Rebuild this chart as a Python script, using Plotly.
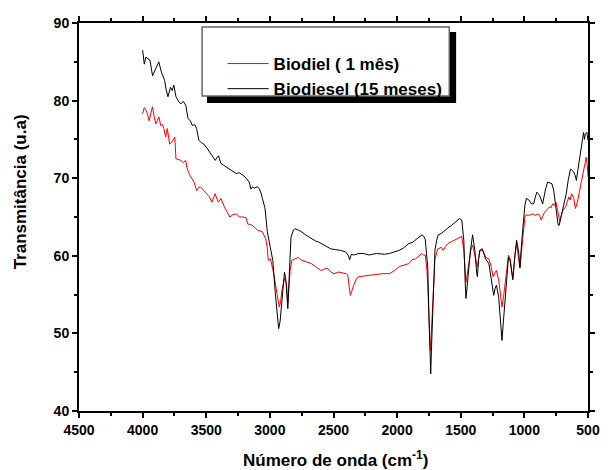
import plotly.graph_objects as go

# ---- data ----
series_names = ["Biodiel ( 1 mês)", "Biodiesel (15 meses)"]

wn_red = [4000, 3987, 3975, 3962, 3949, 3935, 3923, 3910, 3897, 3885, 3872, 3858, 3845, 3833, 3819, 3806, 3795, 3788,
          3768, 3747, 3738, 3720, 3699, 3680, 3661, 3653, 3635, 3615, 3596, 3576, 3560, 3546, 3520, 3494, 3475, 3456,
          3440, 3430, 3415, 3404, 3385, 3371, 3355, 3341, 3315, 3290, 3264, 3240, 3212, 3187, 3174, 3150, 3136, 3110,
          3097, 3059, 3045, 3033, 3020, 3013, 2995, 2970, 2944, 2926, 2915, 2905, 2885, 2869, 2859, 2848, 2841, 2828,
          2803, 2777, 2760, 2739, 2710, 2675, 2640, 2598, 2570, 2547, 2520, 2496, 2460, 2419, 2400, 2388, 2378, 2368,
          2355, 2342, 2320, 2304, 2260, 2215, 2160, 2112, 2061, 2020, 1984, 1945, 1907, 1882, 1856, 1820, 1805, 1792,
          1779, 1774, 1765, 1759, 1750, 1741, 1738, 1730, 1720, 1708, 1703, 1682, 1677, 1651, 1638, 1620, 1600, 1575,
          1549, 1530, 1510, 1492, 1476, 1465, 1459, 1450, 1438, 1420, 1407, 1395, 1382, 1369, 1358, 1348, 1330, 1315,
          1305, 1279, 1260, 1246, 1232, 1220, 1202, 1190, 1176, 1163, 1151, 1138, 1125, 1112, 1091, 1075, 1061, 1048,
          1035, 1020, 1009, 996, 985, 971, 950, 932, 915, 894, 880, 868, 855, 842, 820, 804, 790, 778, 765, 752, 740,
          730, 722, 710, 696, 676, 660, 650, 640, 629, 612, 599, 585, 573, 563, 553, 540, 527, 514, 505, 500]
t_red = [78.3, 79.1, 78.8, 78.3, 77.4, 78.5, 79.2, 78.0, 77.0, 77.4, 77.9, 76.8, 76.9, 76.4, 75.3, 76.4, 75.2, 74.4,
         74.7, 75.3, 72.5, 72.4, 72.3, 72.0, 72.3, 71.4, 70.6, 70.0, 69.5, 68.4, 68.8, 68.9, 68.4, 68.0, 67.6, 66.9,
         67.7, 68.0, 67.3, 66.9, 67.4, 66.7, 66.2, 65.8, 65.0, 65.3, 65.4, 65.0, 65.0, 64.9, 64.1, 64.0, 63.9, 63.5,
         63.3, 63.1, 62.7, 62.2, 61.0, 59.4, 59.6, 57.7, 55.1, 53.4, 54.2, 55.6, 57.1, 56.4, 53.9, 56.5, 58.1, 59.4,
         59.6, 59.8, 59.5, 59.4, 59.2, 59.0, 58.6, 58.1, 58.3, 58.4, 57.9, 57.7, 57.9, 57.8, 57.7, 57.5, 56.5, 54.9,
         55.5, 56.2, 57.0, 57.3, 57.4, 57.5, 57.6, 57.7, 57.7, 58.1, 58.6, 58.8, 59.0, 59.5, 59.6, 60.1, 60.3, 60.1,
         60.1, 59.4, 58.0, 56.0, 51.0, 48.5, 47.8, 50.5, 54.3, 57.3, 59.5, 60.9, 60.9, 61.1, 60.7, 61.2, 61.6, 61.8,
         62.0, 62.1, 62.3, 62.5, 60.7, 57.8, 56.6, 57.5, 59.0, 60.8, 61.4, 60.5, 59.4, 58.6, 59.8, 60.7, 60.7, 60.3,
         59.8, 59.6, 58.5, 57.3, 57.8, 58.1, 56.9, 55.0, 53.4, 54.8, 56.4, 58.5, 60.1, 59.6, 57.1, 59.8, 61.6, 60.0,
         58.4, 61.0, 63.3, 65.0, 65.3, 65.2, 65.3, 65.4, 65.2, 65.4, 65.2, 64.6, 65.1, 65.6, 66.0, 66.3, 66.2, 66.7,
         66.5, 66.9, 66.0, 64.8, 64.4, 65.2, 65.9, 66.3, 67.0, 67.6, 67.2, 68.0, 67.4, 66.1, 66.8, 67.8, 68.8, 69.9,
         71.0, 71.9, 72.7, 71.5, 70.2]

wn_black = [4000, 3987, 3975, 3962, 3942, 3922, 3903, 3873, 3853, 3827, 3815, 3801, 3781, 3768, 3755, 3738, 3715, 3699,
            3680, 3661, 3643, 3625, 3609, 3590, 3576, 3558, 3540, 3519, 3495, 3468, 3450, 3430, 3404, 3385, 3366, 3340,
            3315, 3290, 3264, 3240, 3212, 3187, 3162, 3149, 3136, 3123, 3100, 3085, 3070, 3059, 3039, 3020, 2995, 2977,
            2957, 2940, 2931, 2920, 2910, 2895, 2885, 2874, 2859, 2845, 2834, 2815, 2803, 2775, 2752, 2720, 2700, 2675,
            2640, 2620, 2598, 2560, 2522, 2490, 2445, 2406, 2385, 2373, 2360, 2342, 2300, 2266, 2220, 2163, 2100, 2061,
            2020, 1984, 1950, 1907, 1882, 1856, 1831, 1805, 1790, 1779, 1764, 1759, 1749, 1741, 1736, 1730, 1720, 1715,
            1703, 1689, 1677, 1651, 1626, 1600, 1574, 1550, 1536, 1510, 1492, 1476, 1465, 1459, 1450, 1441, 1425, 1407,
            1389, 1375, 1369, 1360, 1351, 1330, 1305, 1279, 1260, 1241, 1230, 1220, 1202, 1190, 1176, 1165, 1151, 1135,
            1125, 1112, 1091, 1075, 1061, 1045, 1035, 1020, 1009, 996, 984, 965, 945, 927, 915, 902, 890, 876, 856, 835,
            817, 800, 784, 770, 758, 745, 735, 727, 715, 702, 690, 671, 655, 637, 625, 612, 600, 591, 580, 568, 553,
            540, 535, 528, 522, 509, 500]
t_black = [86.5, 84.7, 85.6, 85.4, 85.2, 83.2, 83.9, 85.0, 83.7, 82.6, 81.4, 80.5, 81.7, 81.3, 82.0, 80.5, 79.8, 79.6,
           79.9, 79.4, 77.7, 77.4, 76.8, 76.9, 76.4, 74.9, 74.6, 74.4, 73.9, 73.2, 72.8, 72.3, 72.9, 71.9, 71.7, 71.4,
           71.2, 70.9, 70.6, 70.7, 70.4, 70.0, 69.5, 68.6, 68.9, 68.7, 68.9, 68.7, 68.1, 67.4, 66.2, 63.1, 61.1, 59.4,
           55.1, 51.8, 50.6, 51.5, 53.4, 56.5, 57.9, 56.8, 53.2, 58.5, 62.4, 63.3, 63.5, 63.3, 63.1, 62.7, 62.5, 62.2,
           61.9, 61.8, 61.6, 61.3, 60.9, 60.8, 60.7, 60.5, 60.1, 59.5, 60.2, 60.1, 60.3, 60.3, 60.1, 60.3, 60.2, 60.3,
           60.5, 60.7, 61.0, 61.6, 61.7, 62.0, 62.4, 62.7, 62.5, 62.1, 59.4, 58.4, 51.7, 46.5, 44.8, 48.0, 53.0, 57.3,
           60.7, 62.0, 62.7, 62.9, 63.3, 63.6, 63.9, 64.2, 64.4, 64.8, 64.6, 62.0, 56.5, 54.5, 56.0, 57.7, 60.5, 62.7,
           60.7, 57.8, 57.3, 59.5, 60.7, 60.9, 59.6, 59.0, 57.0, 54.9, 55.8, 56.2, 54.7, 51.5, 49.1, 51.5, 54.7, 58.0,
           59.8, 59.4, 56.9, 60.0, 62.0, 60.5, 58.5, 62.0, 64.2, 66.5, 67.4, 67.2, 66.7, 66.7, 67.5, 68.2, 68.0, 67.6,
           66.7, 68.5, 69.5, 69.4, 69.3, 68.5, 66.9, 65.0, 64.0, 63.9, 64.8, 65.8, 66.8, 68.0, 69.8, 71.2, 71.0, 70.8,
           70.3, 69.7, 71.0, 72.3, 73.6, 75.5, 75.9, 75.0, 75.7, 75.9, 74.9]

x_tick_vals = [4500, 4000, 3500, 3000, 2500, 2000, 1500, 1000, 500]
y_tick_vals = [40, 50, 60, 70, 80, 90]

FONT = "Arial, Liberation Sans, sans-serif"

fig = go.Figure()
fig.add_trace(go.Scatter(x=wn_red, y=t_red, mode="lines", name=series_names[0],
                         line=dict(color="#ff0000", width=1)))
fig.add_trace(go.Scatter(x=wn_black, y=t_black, mode="lines", name=series_names[1],
                         line=dict(color="#000000", width=1)))

W, H = 611, 470
L, R, T, B = 79, 11, 23, 59
pw, ph = W - L - R, H - T - B


def px(xp):
    return (xp - L) / pw


def py(yp):
    return (H - B - yp) / ph


axis_common = dict(showline=True, linecolor="black", linewidth=2, mirror="allticks",
                   ticks="outside", ticklen=5, tickwidth=1.5, tickcolor="black",
                   showgrid=False, zeroline=False,
                   tickfont=dict(family=FONT, size=14, color="black", weight="bold"))

fig.update_xaxes(range=[4500, 500], tickvals=x_tick_vals, **axis_common,
                 minor=dict(dtick=250, ticks="outside", ticklen=3, tickwidth=1.5, tickcolor="black"))
fig.update_yaxes(range=[40, 90], tickvals=y_tick_vals, **axis_common,
                 minor=dict(dtick=5, ticks="outside", ticklen=3, tickwidth=1.5, tickcolor="black"))

fig.update_layout(
    width=W, height=H,
    margin=dict(l=L, r=R, t=T, b=B),
    paper_bgcolor="white", plot_bgcolor="white",
    font=dict(family=FONT, color="black"),
    showlegend=True,
    legend=dict(x=px(226), y=py(46), xanchor="left", yanchor="top",
                bgcolor="rgba(0,0,0,0)", borderwidth=0, itemwidth=41,
                font=dict(family=FONT, size=17, color="black", weight="bold")),
    shapes=[
        dict(type="rect", xref="paper", yref="paper", x0=px(210), x1=px(465), y0=py(103), y1=py(32),
             fillcolor="black", line=dict(width=0), layer="below"),
        dict(type="rect", xref="paper", yref="paper", x0=px(205), x1=px(458), y0=py(96), y1=py(27),
             fillcolor="white", line=dict(color="#666666", width=1.5), layer="below"),
    ],
    annotations=[
        dict(text="Número de onda (cm<sup>-1</sup>)", xref="paper", yref="paper",
             x=px(342), y=py(459), xanchor="center", yanchor="middle", showarrow=False,
             font=dict(family=FONT, size=17, color="black", weight="bold")),
        dict(text="Transmitância (u.a)", xref="paper", yref="paper", textangle=-90,
             x=px(19.5), y=py(191.5), xanchor="center", yanchor="middle", showarrow=False,
             font=dict(family=FONT, size=17, color="black", weight="bold")),
    ],
)

fig.write_html("out.html")
